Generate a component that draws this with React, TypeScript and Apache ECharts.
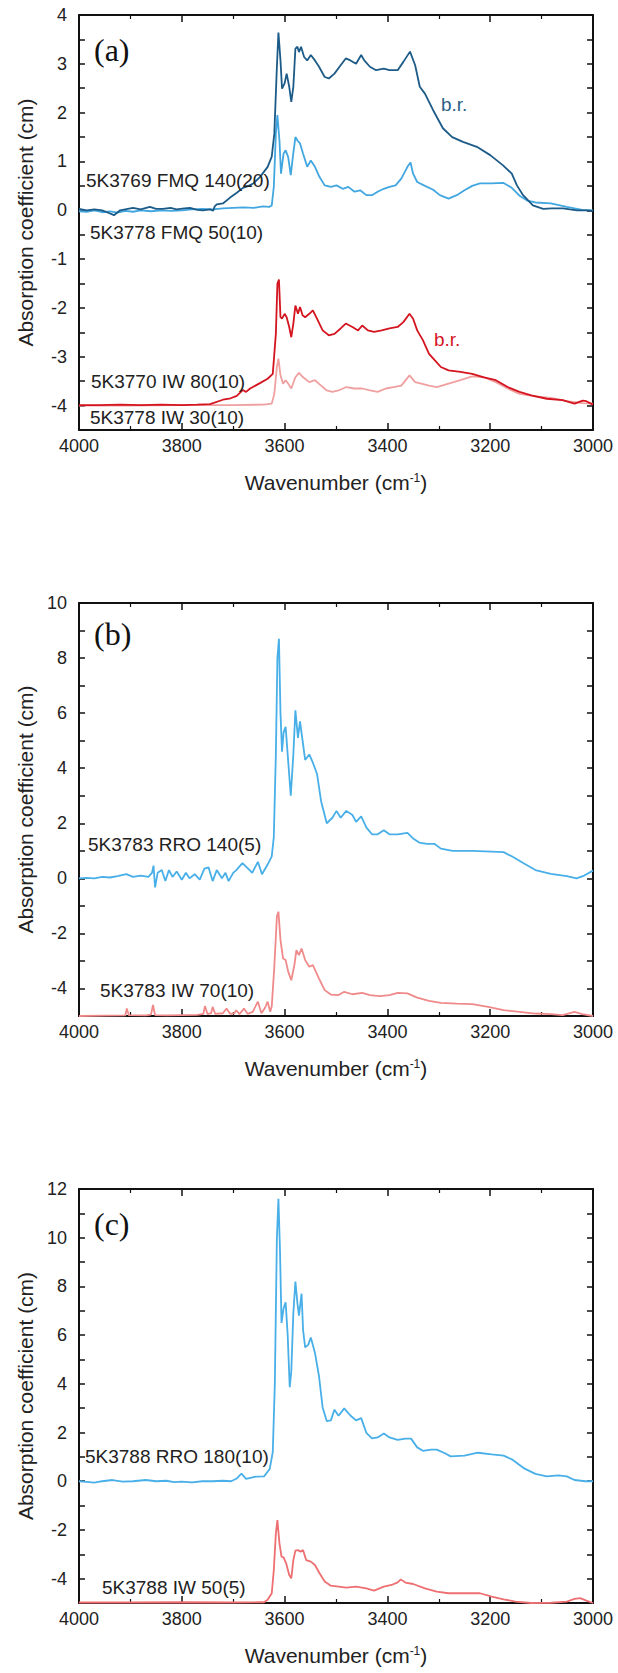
import React, { useEffect, useRef } from "react";
import * as echarts from "echarts";

// ---------------- data (wavenumber cm-1, absorption coefficient) ----------------
// Panel (a)
const fmq140: [number, number][] = [
  [4000, 0.03], [3985, 0.0], [3970, 0.02], [3955, 0.0], [3943, -0.05], [3932, -0.1], [3920, 0.0], [3905, 0.03],
  [3895, 0.05], [3880, 0.02], [3862, 0.07], [3850, 0.03], [3837, 0.03], [3822, 0.05], [3810, 0.02], [3795, 0.04],
  [3784, 0.05], [3770, 0.01], [3759, 0.0], [3745, 0.02], [3739, -0.01], [3736, 0.08], [3732, 0.12], [3720, 0.14],
  [3706, 0.26], [3693, 0.36], [3681, 0.46], [3670, 0.5], [3661, 0.55], [3648, 0.68], [3633, 0.89], [3625, 1.1],
  [3620, 1.57], [3615, 2.94], [3612, 3.64], [3608, 3.07], [3605, 2.49], [3600, 2.6], [3596, 2.8], [3591, 2.53],
  [3587, 2.22], [3583, 2.53], [3579, 3.31], [3575, 3.35], [3572, 3.24], [3568, 3.35], [3562, 3.14], [3556, 3.07],
  [3549, 3.18], [3541, 3.07], [3533, 2.94], [3522, 2.73], [3514, 2.7], [3503, 2.8], [3491, 2.97], [3481, 3.11],
  [3472, 3.07], [3461, 3.0], [3451, 3.18], [3445, 3.07], [3434, 2.94], [3422, 2.87], [3407, 2.9], [3396, 2.87],
  [3380, 2.87], [3369, 3.04], [3356, 3.25], [3346, 2.97], [3337, 2.53], [3327, 2.39], [3311, 2.05], [3292, 1.68],
  [3274, 1.5], [3253, 1.4], [3226, 1.3], [3200, 1.13], [3175, 0.92], [3158, 0.75], [3148, 0.51], [3136, 0.31],
  [3117, 0.1], [3097, 0.03], [3080, 0.04], [3058, 0.04], [3045, 0.02], [3031, 0.0], [3015, 0.0], [3000, -0.01],
];
const fmq50: [number, number][] = [
  [4000, -0.02], [3985, -0.03], [3970, 0.0], [3955, -0.04], [3940, -0.02], [3925, -0.05], [3910, -0.01], [3895, -0.03],
  [3880, 0.0], [3860, -0.02], [3840, 0.0], [3820, -0.01], [3800, 0.0], [3780, 0.02], [3760, 0.03], [3740, 0.02],
  [3720, 0.04], [3700, 0.05], [3680, 0.06], [3660, 0.05], [3642, 0.08], [3630, 0.07], [3625, 0.1], [3621, 0.48],
  [3617, 1.57], [3614, 1.95], [3610, 1.43], [3607, 0.75], [3602, 1.16], [3598, 1.23], [3593, 1.09], [3588, 0.72],
  [3584, 1.09], [3579, 1.5], [3575, 1.43], [3570, 1.37], [3564, 1.16], [3556, 0.89], [3549, 1.02], [3541, 0.89],
  [3532, 0.68], [3522, 0.51], [3510, 0.48], [3499, 0.51], [3487, 0.44], [3476, 0.48], [3464, 0.38], [3453, 0.41],
  [3441, 0.31], [3430, 0.31], [3419, 0.38], [3407, 0.44], [3396, 0.48], [3384, 0.51], [3373, 0.65], [3361, 0.89],
  [3355, 0.98], [3350, 0.75], [3342, 0.58], [3327, 0.5], [3311, 0.42], [3298, 0.31], [3281, 0.24], [3265, 0.31],
  [3250, 0.41], [3235, 0.5], [3220, 0.55], [3197, 0.55], [3174, 0.56], [3158, 0.46], [3143, 0.3], [3128, 0.2],
  [3112, 0.16], [3082, 0.14], [3051, 0.07], [3021, 0.01], [3000, 0.0],
];
const iw80: [number, number][] = [
  [4000, -3.99], [3960, -3.99], [3920, -3.98], [3880, -3.99], [3840, -3.98], [3800, -3.99], [3770, -3.98], [3745, -3.97],
  [3720, -3.88], [3705, -3.85], [3693, -3.8], [3681, -3.68], [3675, -3.72], [3667, -3.65], [3648, -3.54], [3633, -3.45],
  [3623, -3.35], [3617, -2.53], [3614, -1.5], [3611, -1.42], [3608, -2.19], [3605, -2.22], [3600, -2.12], [3596, -2.19],
  [3591, -2.39], [3587, -2.6], [3583, -2.32], [3579, -1.95], [3574, -2.12], [3570, -1.98], [3565, -2.15], [3560, -2.19],
  [3552, -2.12], [3545, -2.05], [3537, -2.22], [3526, -2.46], [3514, -2.56], [3503, -2.53], [3491, -2.42], [3481, -2.32],
  [3468, -2.39], [3457, -2.46], [3449, -2.36], [3438, -2.46], [3426, -2.49], [3411, -2.46], [3396, -2.42], [3380, -2.39],
  [3369, -2.29], [3357, -2.12], [3350, -2.22], [3342, -2.46], [3331, -2.66], [3319, -2.94], [3308, -3.07], [3296, -3.21],
  [3281, -3.28], [3258, -3.31], [3235, -3.35], [3212, -3.42], [3189, -3.48], [3166, -3.62], [3143, -3.72], [3120, -3.79],
  [3090, -3.86], [3059, -3.89], [3036, -3.96], [3020, -3.9], [3013, -3.91], [3000, -3.98],
];
const iw30: [number, number][] = [
  [4000, -4.0], [3900, -4.0], [3800, -3.99], [3700, -3.99], [3640, -3.98], [3625, -3.96], [3620, -3.76], [3615, -3.21],
  [3612, -3.04], [3608, -3.38], [3603, -3.55], [3598, -3.48], [3593, -3.55], [3587, -3.65], [3579, -3.42], [3572, -3.33],
  [3564, -3.42], [3552, -3.52], [3541, -3.48], [3529, -3.59], [3518, -3.69], [3507, -3.72], [3495, -3.69], [3480, -3.62],
  [3464, -3.65], [3449, -3.65], [3434, -3.69], [3419, -3.72], [3403, -3.65], [3388, -3.62], [3373, -3.59], [3357, -3.38],
  [3346, -3.52], [3334, -3.55], [3319, -3.59], [3304, -3.62], [3281, -3.55], [3258, -3.48], [3235, -3.4], [3212, -3.42],
  [3189, -3.52], [3166, -3.65], [3143, -3.76], [3112, -3.81], [3082, -3.84], [3051, -3.91], [3021, -3.95], [3000, -3.96],
];

// Panel (b)
const rro140: [number, number][] = [
  [4000, 0.0], [3985, 0.02], [3970, 0.0], [3955, 0.05], [3940, 0.03], [3925, 0.08], [3908, 0.15], [3895, 0.05],
  [3880, 0.1], [3865, 0.05], [3858, 0.2], [3855, 0.46], [3852, -0.33], [3847, 0.2], [3839, 0.3], [3832, -0.1],
  [3825, 0.3], [3818, 0.05], [3810, 0.25], [3800, -0.05], [3792, 0.2], [3785, 0.0], [3775, 0.15], [3765, -0.05],
  [3756, 0.35], [3748, 0.4], [3740, -0.1], [3732, 0.3], [3722, 0.0], [3715, 0.2], [3709, -0.1], [3700, 0.2],
  [3694, 0.3], [3682, 0.55], [3671, 0.35], [3663, 0.2], [3652, 0.6], [3644, 0.15], [3633, 0.5], [3625, 0.8],
  [3621, 1.5], [3617, 4.5], [3614, 8.0], [3611, 8.7], [3608, 6.0], [3605, 4.6], [3602, 5.3], [3598, 5.5],
  [3594, 4.5], [3588, 3.0], [3583, 4.5], [3579, 6.1], [3574, 5.1], [3570, 5.7], [3565, 5.0], [3560, 4.3],
  [3552, 4.5], [3545, 4.2], [3537, 3.8], [3529, 2.8], [3518, 2.0], [3507, 2.2], [3499, 2.45], [3491, 2.2],
  [3480, 2.45], [3468, 2.3], [3461, 2.05], [3451, 2.25], [3441, 1.85], [3430, 1.6], [3419, 1.6], [3407, 1.75],
  [3396, 1.6], [3380, 1.6], [3361, 1.65], [3350, 1.45], [3338, 1.3], [3323, 1.25], [3308, 1.25], [3296, 1.08],
  [3273, 1.0], [3235, 1.0], [3197, 0.97], [3174, 0.95], [3158, 0.8], [3135, 0.55], [3112, 0.3], [3082, 0.16],
  [3051, 0.08], [3032, 0.0], [3017, 0.1], [3000, 0.28],
];
const iw70: [number, number][] = [
  [4000, -5.0], [3950, -4.99], [3910, -4.98], [3907, -4.73], [3903, -4.97], [3870, -4.98], [3860, -4.95], [3856, -4.6],
  [3852, -4.97], [3830, -4.98], [3800, -4.97], [3770, -4.96], [3758, -4.92], [3755, -4.64], [3750, -4.93], [3743, -4.9],
  [3740, -4.67], [3735, -4.92], [3720, -4.9], [3713, -4.73], [3706, -4.92], [3698, -4.9], [3694, -4.79], [3688, -4.93],
  [3679, -4.73], [3672, -4.92], [3662, -4.85], [3652, -4.48], [3645, -4.9], [3638, -4.7], [3633, -4.48], [3628, -4.85],
  [3625, -4.65], [3620, -3.21], [3615, -1.39], [3612, -1.21], [3608, -2.24], [3603, -2.91], [3598, -2.97], [3593, -3.39],
  [3587, -3.7], [3581, -3.15], [3577, -2.61], [3572, -2.79], [3567, -2.55], [3560, -2.97], [3552, -3.21], [3545, -3.15],
  [3533, -3.64], [3522, -4.06], [3510, -4.22], [3495, -4.24], [3484, -4.12], [3468, -4.21], [3449, -4.16], [3434, -4.24],
  [3415, -4.28], [3396, -4.24], [3380, -4.16], [3361, -4.18], [3342, -4.33], [3319, -4.45], [3296, -4.52], [3265, -4.55],
  [3235, -4.57], [3204, -4.67], [3174, -4.79], [3143, -4.85], [3112, -4.91], [3082, -4.93], [3059, -4.97], [3036, -4.85],
  [3021, -4.93], [3000, -5.0],
];

// Panel (c)
const rro180: [number, number][] = [
  [4000, 0.0], [3985, -0.03], [3970, -0.06], [3955, 0.0], [3935, 0.05], [3915, -0.02], [3895, 0.0], [3870, 0.05],
  [3850, 0.0], [3830, 0.02], [3815, -0.04], [3800, -0.02], [3780, -0.05], [3760, 0.0], [3740, 0.0], [3720, 0.02],
  [3704, 0.0], [3694, 0.1], [3684, 0.31], [3675, 0.1], [3656, 0.19], [3640, 0.2], [3629, 0.5], [3623, 1.2],
  [3619, 4.0], [3615, 10.0], [3612, 11.6], [3609, 9.5], [3606, 6.5], [3602, 7.1], [3598, 7.35], [3594, 6.0],
  [3590, 3.86], [3587, 4.5], [3583, 6.9], [3579, 8.2], [3575, 7.3], [3572, 6.8], [3567, 7.7], [3564, 6.2],
  [3560, 5.5], [3554, 5.6], [3549, 5.9], [3541, 5.28], [3533, 4.3], [3526, 3.03], [3518, 2.47], [3510, 2.5],
  [3503, 2.94], [3495, 2.69], [3484, 2.99], [3472, 2.7], [3461, 2.5], [3451, 2.59], [3441, 1.99], [3430, 1.76],
  [3419, 1.8], [3407, 1.96], [3396, 1.8], [3380, 1.7], [3365, 1.75], [3354, 1.75], [3342, 1.39], [3331, 1.25],
  [3315, 1.3], [3304, 1.3], [3288, 1.15], [3277, 1.02], [3250, 1.05], [3224, 1.17], [3197, 1.1], [3174, 1.05],
  [3158, 0.9], [3135, 0.54], [3112, 0.3], [3090, 0.2], [3067, 0.24], [3051, 0.2], [3036, 0.05], [3015, 0.0],
  [3000, 0.0],
];
const iw50: [number, number][] = [
  [4000, -4.98], [3900, -4.98], [3800, -4.97], [3700, -4.98], [3650, -4.97], [3640, -4.97], [3633, -4.87], [3625, -4.6],
  [3621, -3.65], [3617, -2.14], [3614, -1.6], [3610, -2.55], [3606, -3.1], [3602, -3.13], [3597, -3.37], [3591, -3.85],
  [3587, -3.99], [3583, -3.24], [3579, -2.85], [3574, -2.83], [3569, -2.89], [3564, -2.83], [3558, -3.24], [3549, -3.3],
  [3541, -3.44], [3532, -3.78], [3522, -4.12], [3510, -4.29], [3495, -4.33], [3480, -4.37], [3461, -4.33], [3441, -4.4],
  [3426, -4.49], [3407, -4.33], [3392, -4.26], [3380, -4.15], [3374, -4.03], [3365, -4.16], [3350, -4.22], [3327, -4.4],
  [3304, -4.53], [3281, -4.6], [3250, -4.6], [3220, -4.6], [3197, -4.74], [3174, -4.85], [3151, -4.94], [3120, -5.0],
  [3082, -4.99], [3051, -4.94], [3036, -4.83], [3025, -4.8], [3013, -4.9], [3000, -5.0],
];

// axis ranges per panel
const yRanges = [
  { min: -4.5, max: 4, step: 0.5, labelEvery: 1 },
  { min: -5, max: 10, step: 1, labelEvery: 2 },
  { min: -5, max: 12, step: 1, labelEvery: 2 },
];
const panelLetters = ["(a)", "(b)", "(c)"];

const SANS = "'Liberation Sans', Arial, sans-serif";
const SERIF = "'Liberation Serif', 'Times New Roman', serif";

const grids = [
  { left: 79, right: 25, top: 15, height: 415 },
  { left: 79, right: 25, top: 603, height: 413 },
  { left: 79, right: 25, top: 1189, height: 414 },
];

export default function App() {
  const ref = useRef<HTMLDivElement>(null);

  useEffect(() => {
    if (!ref.current) return;
    const chart = echarts.init(ref.current, undefined, { renderer: "svg" });

    const xAxes: any[] = [];
    const yAxes: any[] = [];
    grids.forEach((_, gi) => {
      const base = {
        type: "value",
        gridIndex: gi,
        min: 3000,
        max: 4000,
        interval: 200,
        inverse: true,
        splitLine: { show: false },
        axisLine: { show: true, onZero: false, lineStyle: { color: "#111", width: 2 } },
        axisTick: { show: true, inside: true, length: 7, lineStyle: { color: "#111", width: 1.5 } },
        minorTick: { show: true, splitNumber: 2, length: 4, lineStyle: { color: "#111", width: 1.2 } },
        minorSplitLine: { show: false },
      };
      xAxes.push({
        ...base,
        position: "bottom",
        axisLabel: {
          show: true,
          fontSize: 18,
          fontFamily: SANS,
          color: "#222",
          margin: 7,
          formatter: (v: number) => String(Math.round(v)),
        },
        name: "Wavenumber (cm{s|-1})",
        nameLocation: "middle",
        nameGap: 42,
        nameTextStyle: {
          fontSize: 21,
          fontFamily: SANS,
          color: "#222",
          rich: { s: { fontSize: 12, fontFamily: SANS, color: "#222", verticalAlign: "top", lineHeight: 14 } },
        },
      });
      xAxes.push({ ...base, position: "top", axisLabel: { show: false } });

      const r = yRanges[gi];
      const ybase = {
        type: "value",
        gridIndex: gi,
        min: r.min,
        max: r.max,
        interval: r.step,
        splitLine: { show: false },
        axisLine: { show: true, onZero: false, lineStyle: { color: "#111", width: 2 } },
        axisTick: { show: true, inside: true, length: 6, lineStyle: { color: "#111", width: 1.5 } },
      };
      yAxes.push({
        ...ybase,
        position: "left",
        axisLabel: {
          show: true,
          fontSize: 18,
          fontFamily: SANS,
          color: "#222",
          margin: 12,
          formatter: (v: number) => {
            const k = v / r.labelEvery;
            return Math.abs(k - Math.round(k)) < 1e-6 ? String(Math.round(v)) : "";
          },
        },
        name: "Absorption coefficient (cm)",
        nameLocation: "middle",
        nameGap: 43,
        nameTextStyle: { fontSize: 21, fontFamily: SANS, color: "#222" },
      });
      yAxes.push({ ...ybase, position: "right", axisLabel: { show: false } });
    });

    const line = (data: [number, number][], gi: number, color: string, name: string) => ({
      type: "line",
      name,
      xAxisIndex: gi * 2,
      yAxisIndex: gi * 2,
      data,
      showSymbol: false,
      symbol: "none",
      lineStyle: { color, width: 1.8 },
      itemStyle: { color },
      clip: true,
      z: 3,
    });

    const series = [
      line(fmq50, 0, "#42a7e0", "5K3778 FMQ 50(10)"),
      line(fmq140, 0, "#1c5b88", "5K3769 FMQ 140(20)"),
      line(iw30, 0, "#f0a0a0", "5K3778 IW 30(10)"),
      line(iw80, 0, "#d4141f", "5K3770 IW 80(10)"),
      line(rro140, 1, "#48afe8", "5K3783 RRO 140(5)"),
      line(iw70, 1, "#f08a8a", "5K3783 IW 70(10)"),
      line(rro180, 2, "#48afe8", "5K3788 RRO 180(10)"),
      line(iw50, 2, "#ee6f72", "5K3788 IW 50(5)"),
    ];

    const txt = (text: string, x: number, y: number, color = "#222", size = 19, family = SANS) => ({
      type: "text",
      x,
      y,
      z: 10,
      style: { text, fill: color, fontSize: size, fontFamily: family, textAlign: "left", textVerticalAlign: "middle" },
    });

    const graphic = [
      txt("5K3769 FMQ 140(20)", 86, 180),
      txt("5K3778 FMQ 50(10)", 90, 232),
      txt("5K3770 IW 80(10)", 91, 381),
      txt("5K3778 IW 30(10)", 90, 417),
      txt("b.r.", 441, 104, "#2b5f86"),
      txt("b.r.", 434, 339, "#d4141f"),
      txt("5K3783 RRO 140(5)", 88, 844),
      txt("5K3783 IW 70(10)", 100, 990),
      txt("5K3788 RRO 180(10)", 85, 1456),
      txt("5K3788 IW 50(5)", 102, 1587),
      txt(panelLetters[0], 94, 50, "#111", 32, SERIF),
      txt(panelLetters[1], 94, 634, "#111", 32, SERIF),
      txt(panelLetters[2], 94, 1224, "#111", 32, SERIF),
    ];

    chart.setOption({
      animation: false,
      backgroundColor: "#ffffff",
      grid: grids.map((g) => ({ ...g, containLabel: false })),
      xAxis: xAxes,
      yAxis: yAxes,
      series,
      graphic,
    });

    return () => chart.dispose();
  }, []);

  return (
    <div
      ref={ref}
      style={{ position: "absolute", left: 0, top: 0, width: 618, height: 1673, background: "#fff" }}
    />
  );
}
